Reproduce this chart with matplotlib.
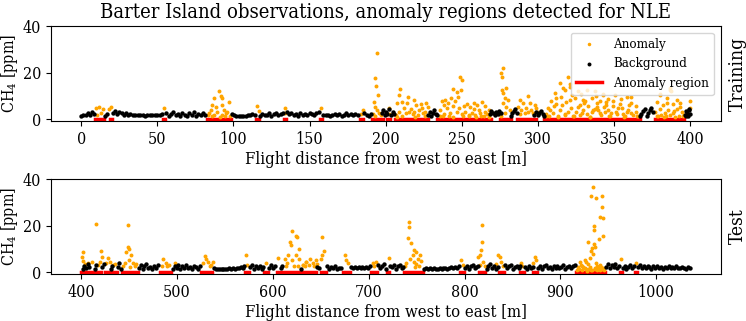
import matplotlib
matplotlib.use("Agg")
import matplotlib.pyplot as plt

plt.rcParams['font.family'] = 'DejaVu Serif'
plt.rcParams['font.stretch'] = 'condensed'
plt.rcParams['mathtext.fontset'] = 'dejavuserif'

# ---------------- training (top) ----------------
bg_top_x = [0, 1.5, 3, 4.3, 5.8, 7.2, 8.5,
            15.8, 17.2,
            21, 22.4, 23.8, 25.1, 26.5, 27.9, 29.3, 30.8, 32.3, 33.9, 35.5, 37.1, 38.7, 40.3, 41.9, 43.5, 45.1, 46.7, 48.3, 49.9, 51.5, 53,
            56, 57.5, 59, 60.5, 62, 63.5, 65, 66.5, 68, 69.5, 71, 72.5, 74, 75.5, 77, 78.5, 80, 81.5,
            99, 100.5, 102, 103.5, 105, 106.5, 108, 109.5, 111, 112.5, 114,
            117.5, 119, 120.5, 122, 123.5, 125, 126.5, 128, 129.5, 131, 132.5,
            135, 136.5, 138, 139.5, 141, 142.5, 144, 145.5, 147, 148.5, 150, 151.5, 153, 154.5, 156,
            159, 160.5, 162, 163.5, 165, 166.5, 168, 169.5, 171, 172.5, 174, 175.5, 177, 178.5, 180, 181.5,
            186, 187.5, 189, 190.5,
            197.5, 198.5, 199.5, 200.5, 201, 202, 203.5, 204.5, 205.5,
            228, 229, 230, 231, 232, 233, 234,
            268.5, 269.5, 270.5, 271.5, 272.5, 273.5, 274.5, 275.5,
            282, 283, 284, 285, 286,
            297.5, 299, 300, 301, 302, 303, 304,
            367, 368, 369, 370, 371.5, 372.5, 373.5, 374.5, 375.5,
            396.5, 397.2, 398, 398.8, 399.5, 400, 397.5, 399]
bg_top_y = [1.2, 2.0, 1.6, 2.6, 1.9, 3.0, 2.2,
            1.5, 2.4,
            2.8, 3.4, 2.2, 3.0, 2.5, 2.0, 2.7, 1.8, 2.2, 1.7, 1.9, 1.6, 1.8, 1.7, 1.5, 1.8, 1.6, 1.9, 1.7, 2.0, 1.8, 2.3,
            2.6, 1.5, 2.2, 3.0, 1.7, 2.4, 1.3, 2.8, 2.0, 1.5, 2.6, 1.8, 2.9, 1.4, 2.2, 1.7, 2.5, 1.9,
            2.4, 1.8, 1.3, 1.2, 1.3, 1.4, 1.5, 1.6, 1.8, 2.2, 1.9,
            1.4, 2.2, 1.6, 1.9, 2.5, 1.5, 2.1, 2.8, 1.7, 2.3, 2.6,
            3.0, 2.2, 2.6, 1.8, 2.4, 1.5, 2.8, 2.0, 2.3, 1.6, 2.7, 2.1, 1.8, 2.5, 2.9,
            1.8, 1.6, 2.0, 1.5, 1.9, 2.4, 1.7, 2.2, 1.4, 2.0, 2.6, 1.8, 2.1, 1.6, 2.3, 1.9,
            2.6, 2.0, 1.5, 2.2,
            2.5, 4.0, 1.6, 3.2, 2.2, 4.5, 1.8, 3.0, 2.4,
            2.0, 3.2, 1.5, 2.8, 3.8, 2.2, 1.6,
            2.2, 3.4, 2.6, 1.8, 3.0, 2.2, 3.5, 2.5,
            1.5, 2.5, 3.5, 4.3, 2.8,
            2.0, 3.2, 1.6, 2.6, 3.6, 2.2, 1.4,
            1.2, 2.2, 3.4, 4.5, 1.5, 2.6, 3.8, 4.8, 3.0,
            2.0, 3.4, 2.6, 1.5, 3.8, 2.4, 1.4, 4.2]

an_top_x = [9.9, 11.6, 14.5, 19.3, 18.2, 12.8, 10.5,
            54.4,
            90.6, 91.7, 92.8, 87.3, 97.2, 86.2, 88.4, 85.1, 92.3, 93.9, 89.5, 84, 95, 87.3, 92.8, 96, 83, 86, 91, 94.5, 97.5,
            115.4, 116.5, 133.8, 133.6, 157.5, 184.9, 184,
            194.3, 193.2, 193.7, 194.8, 192.0, 192.8, 194.1, 195.9, 197, 191.5, 193,
            202.4, 202,
            209.7, 209, 214.9, 207.2, 211, 218.4, 214.3, 220.1, 223.4, 226.7, 227.7, 212.3, 216.7, 222.2, 225.5, 209,
            213.4, 217.8, 221.1, 224.4, 206.8, 215.6, 224, 218.9, 207.5, 211, 219.5, 226,
            249.0, 250.3, 243.9, 249.6, 246.7, 247.8, 243.0, 239.1, 236.9, 241.2, 245.6, 244.5, 238, 240.2, 235.8, 246.7,
            242.3, 251.3, 253.4, 255.6, 260, 263.4, 265.2, 257.8, 261.1, 267.7, 252.3, 256.7, 262.2, 266.8, 254.5, 258.9,
            249.8, 238.3, 236, 244, 259.5, 264.5, 268,
            237.5, 241.5, 248, 251, 255, 258, 262.8, 265.5,
            277, 275.9, 276.6, 279.2, 276.6, 277, 278.1, 280.3, 277, 279.2, 281.4, 278.1, 276,
            293.4, 288, 290.1, 294.5, 297.8, 286.9, 292.3, 289, 295.6, 298.9, 291.2, 296.7, 288, 300, 293.4,
            319.7, 314.3, 320.9, 317.6, 311.0, 315.4, 326.4, 331.9, 337.4, 342.9, 324.2, 329.7, 335.2, 340.6, 308.8, 312.1,
            318.7, 327.5, 333, 338.5, 345, 349.4, 353.7, 358.2, 361.4, 364.7, 306.6, 314.3, 321.9, 329.7, 337.4, 346.1,
            352.6, 359.3, 364.7, 309.9, 317.6, 325.3, 331.9, 340.6, 348.3, 356, 361.4, 305.5, 319.7, 335.2, 344, 351.5,
            327.5, 320.8, 316.4, 328.5, 342.8, 361.4, 323, 334, 347, 356.5, 366, 307.5, 313, 343.5, 354.8, 350.5, 339.5,
            305, 308, 310.5, 313.5, 316, 318, 321, 323.5, 326, 329, 331, 334.5, 336, 339, 341.5, 344.5, 347.5, 349,
            352, 355, 357.5, 360, 362.5, 365, 312, 330, 346, 358.5, 322.5, 338,
            386.6, 387.7, 380.1, 384.5, 391.1, 377.9, 382.3, 388.8, 393.2, 399.8, 380.1, 385.6, 391.1, 376.8, 383.4, 388.8,
            394.3, 399.8, 386.6, 380.1, 379, 390, 395.5, 382.5,
            378, 381, 384, 387, 389.5, 392.5, 396, 385, 393.5]
an_top_y = [5.0, 5.2, 4.2, 5.2, 4.2, 2.6, 2.0,
            4.9,
            12.3, 10.0, 9.3, 9.0, 7.4, 6.1, 5.4, 4.0, 6.1, 4.0, 3.3, 2.6, 2.6, 1.9, 1.9, 3.3, 1.9, 1.2, 1.0, 1.5, 1.2,
            5.7, 3.6, 4.9, 2.6, 5.0, 4.0, 2.4,
            28.3, 17.6, 14.3, 10.2, 7.3, 5.4, 4.0, 2.6, 1.9, 2.2, 1.2,
            4.9, 2.3,
            13.0, 10.4, 9.4, 6.9, 7.3, 8.3, 6.9, 6.1, 6.4, 6.9, 5.4, 5.0, 4.2, 4.0, 3.3, 3.3,
            2.6, 2.1, 1.9, 2.6, 1.9, 3.3, 5.0, 3.3, 1.0, 1.2, 1.0, 1.3,
            18.3, 16.8, 13.0, 12.6, 11.6, 9.7, 9.0, 8.3, 7.6, 6.9, 7.9, 5.8, 6.1, 4.9, 4.0, 3.3,
            2.6, 5.8, 6.4, 5.4, 6.1, 7.3, 5.8, 4.3, 4.0, 4.0, 3.3, 2.6, 2.6, 2.1, 1.9, 1.9,
            2.1, 2.1, 1.2, 1.0, 1.1, 1.3, 1.0,
            1.3, 1.5, 4.8, 1.2, 1.4, 6.9, 1.2, 3.2,
            21.8, 19.7, 18.3, 13.6, 12.6, 11.2, 9.0, 8.3, 6.9, 5.4, 4.0, 2.6, 1.5,
            10.0, 8.3, 6.9, 6.9, 6.1, 5.4, 4.9, 4.0, 4.0, 4.9, 2.6, 2.6, 2.1, 3.0, 3.0,
            18.3, 15.4, 14.0, 12.6, 11.2, 9.7, 11.9, 12.6, 11.9, 10.4, 9.0, 8.3, 9.0, 7.6, 7.6, 6.4,
            7.3, 6.1, 5.8, 6.9, 6.1, 7.6, 6.4, 9.7, 6.9, 5.8, 4.9, 4.0, 4.9, 4.0, 4.4, 4.0,
            4.9, 4.0, 3.3, 2.6, 2.1, 2.9, 2.1, 2.6, 2.6, 2.1, 2.6, 2.1, 3.2, 3.2, 2.9, 3.2,
            1.9, 15.3, 13.2, 11.0, 11.0, 9.6, 1.2, 1.0, 1.4, 1.1, 1.3, 1.2, 1.0, 5.2, 8.8, 10.6, 3.8,
            1.5, 3.8, 5.6, 1.4, 6.2, 2.0, 8.1, 1.3, 5.2, 2.8, 7.8, 1.1, 3.9, 5.1, 1.6, 7.2, 1.3, 5.5,
            2.4, 4.6, 1.4, 5.9, 2.0, 1.5, 9.2, 6.8, 8.6, 3.2, 10.2, 9.9,
            13.3, 11.9, 10.4, 9.0, 8.3, 7.3, 6.1, 6.4, 5.4, 7.6, 4.4, 4.0, 4.4, 2.9, 2.6, 2.6,
            2.9, 5.0, 12.4, 11.0, 1.2, 1.0, 1.3, 1.1,
            1.5, 1.8, 1.2, 1.6, 3.6, 1.3, 1.8, 6.8, 6.9]

reg_top_start = [9.0, 18.9, 54.0, 82.5, 114.7, 132.9, 157.0, 183.0, 191.0, 201.0, 206.0, 234.0, 275.0, 286.0, 304.0, 377.0]
reg_top_end = [14.9, 20.4, 55.2, 98.3, 116.9, 134.4, 158.3, 185.0, 198.0, 203.0, 228.0, 269.0, 282.0, 299.0, 367.0, 396.0]

# ---------------- test (bottom) ----------------
bg_bot_x = [401.5, 403, 404.8, 406.8, 408.2, 414, 415.8, 422, 423.8, 431, 432.5, 438, 439.8, 441.5,
            460, 462, 464, 466, 468, 470, 472, 474, 476, 478, 480,
            495.5, 497.5, 499.5, 501.5, 503.5, 505.5, 507.5, 509.5, 511.5, 513.5, 515.5, 517.5, 519.5, 521.5, 523.5,
            538.5, 540.5, 542.5, 544.5, 546.5, 548.5, 550.5, 552.5, 554.5, 556.5, 558.5, 560.5, 562.5, 564.5, 566.5, 568.5, 570,
            576.5, 578.5, 580.5, 582.5, 584.5, 586.5, 588.5, 590, 596.5, 598.5, 600.5, 602.5, 608, 610, 629.5, 646.5, 648.5,
            657, 659, 661, 663, 665, 667, 669, 671.5,
            681.5, 683.5, 685.5, 687.5, 689.5, 691.5, 693.5, 695.5, 697.5, 699.5, 701.5,
            710, 712, 714, 716, 718, 722.5, 724.5, 726.5, 728.5, 730.5, 732.5, 734.5, 736,
            758, 760, 762, 764, 766, 768, 770, 772, 774, 776, 778, 780, 782, 784, 786, 788, 790, 792, 794.5,
            800.5, 802.5, 804.5, 806.5, 808.5, 810.5, 812.5, 814,
            823, 825, 827, 829, 831, 833, 835,
            842.5, 844.5, 846.5, 848.5, 850.5, 852.5, 854.5, 856.5, 858,
            863, 865, 867, 869, 871,
            877, 879, 881, 883, 885, 887, 889, 891, 893, 895, 897, 899, 901, 903, 905, 907, 909, 911, 913, 915.5,
            947.5, 949.5, 951.5, 953.5, 955.5, 957.5, 959.5, 961.5,
            965, 967, 969, 971, 973, 975, 977,
            981, 983, 985, 987, 989, 991, 993, 995, 997, 999, 1001, 1003, 1005, 1007, 1009, 1011, 1013, 1015,
            1017, 1019, 1021, 1023, 1025, 1027, 1029, 1031, 1033, 1035.5]
bg_bot_y = [1.5, 2.8, 1.8, 3.4, 2.2, 1.2, 3.0, 2.4, 3.6, 1.6, 2.9, 2.2, 3.8, 1.4,
            2.0, 3.2, 1.5, 2.6, 3.4, 1.8, 2.4, 1.3, 2.8, 2.0, 3.0,
            1.6, 2.7, 1.9, 3.2, 1.4, 2.5, 2.0, 3.0, 1.7, 2.4, 1.3, 2.9, 2.1, 1.6, 2.6,
            1.8, 1.4, 1.6, 1.3, 1.5, 1.4, 1.6, 1.5, 1.7, 1.4, 1.8, 1.6, 2.0, 1.8, 2.3, 1.9, 2.6,
            2.2, 3.0, 1.6, 2.6, 1.9, 2.8, 1.5, 2.4, 2.0, 3.1, 1.7, 2.5, 1.8, 2.7, 1.6, 2.4, 1.8,
            2.6, 1.6, 2.2, 1.8, 2.5, 1.5, 2.0, 1.7,
            2.2, 1.8, 2.1, 1.7, 2.3, 1.9, 2.2, 1.8, 2.4, 2.0, 2.6,
            3.2, 1.8, 2.6, 3.5, 1.6, 2.8, 2.2, 3.3, 1.5, 2.5, 3.0, 1.9, 2.4,
            1.6, 1.9, 1.4, 1.7, 1.5, 1.8, 1.3, 1.6, 1.9, 1.5, 1.7, 2.0, 1.6, 1.8, 2.2, 1.7, 2.4, 2.0, 2.6,
            2.0, 2.8, 1.6, 2.5, 3.0, 1.8, 2.4, 2.9,
            1.5, 2.6, 3.4, 1.9, 2.8, 1.4, 2.3,
            3.0, 1.8, 2.6, 3.3, 1.6, 2.4, 2.9, 1.9, 2.5,
            2.2, 1.5, 2.7, 1.9, 2.4,
            2.0, 2.8, 1.6, 2.5, 3.1, 1.8, 2.3, 1.5, 2.7, 2.0, 2.9, 1.7, 2.4, 3.0, 1.6, 2.2, 2.8, 1.9, 2.5, 3.2,
            2.4, 3.4, 1.8, 3.0, 2.2, 3.6, 1.9, 2.6,
            2.0, 2.8, 1.6, 2.4, 3.0, 1.8, 2.5,
            2.2, 3.0, 1.7, 2.6, 1.9, 2.8, 2.3, 1.6, 2.5, 2.0, 2.7, 1.8, 2.4, 1.6, 2.2, 1.9, 2.6, 1.7,
            2.3, 1.8, 2.5, 2.0, 1.7, 2.2, 1.9, 1.6, 2.1, 1.8]

an_bot_x = [415.7, 448.7, 401.7, 401, 402.4, 406.9, 420.8, 421.9, 419.8, 427.8, 429.6, 433, 404, 411, 418, 426, 435,
            448.7, 450.4, 447.0, 452.2, 449.7, 453.9, 445.3, 457.4, 444, 451, 456,
            485.2, 488.7, 492.1, 497.4, 484, 490,
            528.7, 530.4, 532.2, 526.9, 537.4, 535.6, 534,
            571.8, 573, 592.7, 604.9,
            620.5, 624.0, 618.0, 618.7, 627.5, 616.3, 624.0, 612.8, 620.5, 627.5, 634.5, 614.6, 631, 638, 625.1, 614, 622, 626,
            651.8, 653.5, 651.8, 650.1, 644.9, 638.3, 635.0, 641.6, 646.6, 631.7, 633.5, 643,
            675.0, 676.8, 678.5, 704.5, 708, 721.2, 706,
            742.1, 741.7, 741.0, 744.5, 746.9, 749.0, 753.2, 745.9, 751.4, 742.8, 746.9, 754.9, 739.3, 749.7, 738, 748, 752.5,
            796.7, 798,
            818.6, 818.6, 817.6, 815.8, 814.1, 819.3, 816.5, 821,
            834.9, 836.7, 838.4, 833.2, 840,
            859.3, 860.5, 873.2, 874.3, 871.5,
            934.0, 932.3, 937.5, 943.4, 943.8, 941.0, 944.5, 934.7, 934.7, 944.5, 940.3, 928.8, 934.7, 933.3, 935.7, 932.3,
            934.0, 931.2, 925.3, 920.1, 927.1, 937.5, 941.0, 921.8, 918.3, 930.5, 935.7, 942.7, 925.3, 944.5,
            917.5, 919.5, 922.5, 924, 926.5, 928, 929.5, 931.5, 933, 936.5, 938.5, 939.5, 941.5, 943, 945.5, 923, 929, 938,
            963.6, 979.2]
an_bot_y = [20.7, 20.3, 8.6, 6.7, 4.8, 3.9, 9.1, 6.7, 4.6, 6.3, 4.6, 3.1, 3.6, 4.2, 3.3, 4.0, 3.5,
            11.0, 10.0, 8.6, 7.4, 5.3, 3.9, 3.9, 3.4, 2.5, 2.2, 2.8,
            5.9, 4.0, 3.0, 4.1, 2.8, 2.5,
            7.1, 5.9, 4.6, 3.9, 4.6, 3.1, 2.5,
            7.6, 3.0, 3.9, 6.3,
            17.7, 15.6, 12.9, 11.7, 10.0, 7.6, 7.4, 5.9, 5.3, 5.9, 4.6, 3.9, 3.1, 3.1, 15.3, 2.5, 2.8, 2.6,
            15.3, 9.1, 7.6, 5.9, 5.3, 5.6, 4.6, 3.9, 3.4, 3.1, 2.5, 2.7,
            7.4, 5.3, 4.1, 4.1, 4.6, 6.3, 2.8,
            21.4, 19.5, 14.8, 12.4, 9.6, 8.6, 7.4, 7.6, 5.9, 5.6, 4.6, 4.9, 3.9, 3.4, 2.6, 2.4, 2.8,
            5.3, 3.0,
            20.3, 13.1, 9.6, 7.2, 6.7, 4.6, 3.0, 2.8,
            7.4, 6.7, 4.6, 3.4, 2.8,
            3.9, 2.8, 6.7, 5.3, 3.9,
            36.4, 32.9, 32.0, 32.7, 28.1, 23.8, 23.4, 19.8, 18.1, 15.5, 14.3, 12.9, 12.0, 10.3, 11.0, 9.1,
            7.7, 6.0, 5.3, 4.6, 4.3, 3.9, 3.1, 3.1, 2.4, 2.4, 2.0, 2.4, 1.7, 1.7,
            1.0, 1.6, 0.8, 2.2, 1.2, 0.7, 1.4, 0.9, 1.1, 1.3, 0.8, 1.9, 1.0, 1.5, 0.9, 2.8, 3.4, 2.7,
            5.6, 4.1]

reg_bot_start = [400, 409, 417, 425, 433, 443, 482, 525, 571, 591, 604, 611, 631.4, 650.5, 673, 702.7, 719, 737.3,
                 795.8, 814.9, 835.8, 858.4, 871.5, 916.7, 962.2, 977.9]
reg_bot_end = [406, 413, 421, 430, 437, 459, 494, 537, 575, 595, 607, 628, 645.3, 655.8, 680, 708.6, 721, 756.4,
               799.3, 821.9, 841, 861.9, 875.6, 946.3, 963.9, 979.6]


def draw_panel(ax, an_x, an_y, bg_x, bg_y, reg_start, reg_end, side_label, legend=False):
    ax.scatter(an_x, an_y, s=8, color='orange', linewidths=0, label='Anomaly', zorder=2)
    ax.scatter(bg_x, bg_y, s=10, color='black', linewidths=0, label='Background', zorder=3)
    for i in range(len(reg_start)):
        ax.plot([reg_start[i], reg_end[i]], [0, 0], color='red', lw=2.5,
                label='Anomaly region' if i == 0 else None, zorder=1)
    ax.set_ylim(-0.8, 40)
    ax.set_yticks([0, 20, 40])
    ax.set_ylabel('CH$_4$ [ppm]', fontsize=11.5, labelpad=2)
    ax.set_xlabel('Flight distance from west to east [m]', fontsize=12, labelpad=2)
    ax.tick_params(labelsize=11.5)
    ax.text(1.012, 0.5, side_label, transform=ax.transAxes, rotation=90,
            va='center', ha='left', fontsize=13.8)
    if legend:
        ax.legend(loc='upper right', fontsize=9.5, markerscale=0.9)


fig, (ax1, ax2) = plt.subplots(2, 1, figsize=(7.46, 3.21), dpi=100)
fig.subplots_adjust(left=0.068, right=0.966, top=0.919, bottom=0.146, hspace=0.61)

draw_panel(ax1, an_top_x, an_top_y, bg_top_x, bg_top_y, reg_top_start, reg_top_end, 'Training', legend=True)
draw_panel(ax2, an_bot_x, an_bot_y, bg_bot_x, bg_bot_y, reg_bot_start, reg_bot_end, 'Test')

ax1.set_title('Barter Island observations, anomaly regions detected for NLE', fontsize=14.5)

plt.savefig('out.png', dpi=100)
plt.close()
